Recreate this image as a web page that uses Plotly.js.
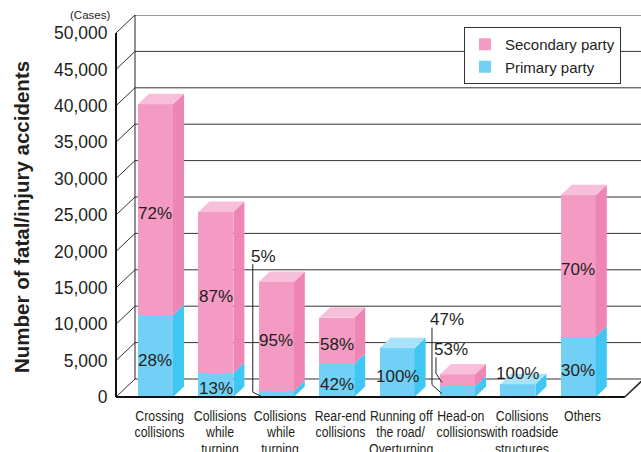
<!DOCTYPE html>
<html>
<head>
<meta charset="utf-8">
<script src="https://cdn.plot.ly/plotly-3.0.1.min.js"></script>
<style>
  html, body { margin: 0; padding: 0; background: #fff; }
  #chart { width: 641px; height: 452px; }
</style>
</head>
<body>
<div id="chart"></div>
<script>
// Fatal/injury accidents by accident type, split by party share
const categories = [
  ['Crossing', 'collisions'],
  ['Collisions', 'while', 'turning'],
  ['Collisions', 'while', 'turning'],
  ['Rear-end', 'collisions'],
  ['Running off', 'the road/', 'Overturning'],
  ['Head-on', 'collisions'],
  ['Collisions', 'with roadside', 'structures'],
  ['Others']
];
const totalCases = [40200, 25400, 15800, 10900, 6700, 3100, 1750, 27700];
const primaryPct = [28, 13, 5, 42, 100, 47, 100, 30];
const secondaryPct = [72, 87, 95, 58, 0, 53, 0, 70];
const seriesNames = { primary: 'Primary party', secondary: 'Secondary party' };
const yTickStep = 5000;
const yTickMax = 50000;

// ---- page / pseudo-3D geometry (pixels) ----
const W = 641, H = 452, ML = 112, MT = 15, MB = 50, MR = 0;
const plotW = W - ML - MR, plotH = H - MT - MB;
const pxPerCat = 60.4, pxPerCase = 364 / yTickMax;
const px = v => v / pxPerCat;       // pixels -> category units
const py = v => v / pxPerCase;      // pixels -> cases
const x0 = -0.72, x1 = x0 + plotW / pxPerCat;
const y0 = -py(5), y1 = y0 + plotH / pxPerCase;
const barW = 0.58;
const depthX = px(11), depthY = py(10.5);
const wallX = px(19), wallY = py(18);
const axisX = x0 + px(4);
const floorEnd = categories.length - 1 + px(46.5);
const narrowScale = 0.82;   // condensed look for the category captions

const colors = {
  primary:   { front: '#72D0F6', side: '#3FC6F3', top: '#A9E2F9' },
  secondary: { front: '#F39BC3', side: '#EE85B4', top: '#F7BFD9' }
};
const ink = '#231F20';
const font = 'Liberation Sans, Arial, Helvetica, sans-serif';

const idx = categories.map((_, i) => i);
const primary = totalCases.map((t, i) => t * primaryPct[i] / 100);
const secondary = totalCases.map((t, i) => t * secondaryPct[i] / 100);

// ---- traces ----
const traces = [];
traces.push({
  type: 'bar', name: seriesNames.primary, x: idx, y: primary, base: idx.map(() => 0),
  width: barW, marker: { color: colors.primary.front, line: { width: 0 } }, hoverinfo: 'skip'
});
traces.push({
  type: 'bar', name: seriesNames.secondary, x: idx, y: secondary, base: primary,
  width: barW, marker: { color: colors.secondary.front, line: { width: 0 } }, hoverinfo: 'skip'
});

// side and top faces, one filled trace per colour
function faceTrace(xs, ys, color) {
  return { type: 'scatter', mode: 'lines', x: xs, y: ys, fill: 'toself', fillcolor: color,
           line: { width: 0, color: color }, showlegend: false, hoverinfo: 'skip' };
}
const faces = { primary: { side: [[], []], top: [[], []] }, secondary: { side: [[], []], top: [[], []] } };
function addPoly(store, pts) {
  pts.forEach(p => { store[0].push(p[0]); store[1].push(p[1]); });
  store[0].push(null); store[1].push(null);
}
idx.forEach(i => {
  const xl = i - barW / 2, xr = i + barW / 2;
  const segs = [['primary', 0, primary[i]], ['secondary', primary[i], primary[i] + secondary[i]]]
    .filter(s => s[2] > s[1]);
  segs.forEach(([key, a, b]) => {
    addPoly(faces[key].side, [[xr, a], [xr + depthX, a + depthY], [xr + depthX, b + depthY], [xr, b]]);
  });
  const [topKey, , topVal] = segs[segs.length - 1];
  addPoly(faces[topKey].top, [[xl, topVal], [xl + depthX, topVal + depthY], [xr + depthX, topVal + depthY], [xr, topVal]]);
});
['primary', 'secondary'].forEach(k => {
  traces.push(faceTrace(faces[k].side[0], faces[k].side[1], colors[k].side));
  traces.push(faceTrace(faces[k].top[0], faces[k].top[1], colors[k].top));
});

// front value axis lives on its own y axis so its line stops at the top tick
traces.push({ type: 'scatter', x: [null], y: [null], yaxis: 'y2', showlegend: false, hoverinfo: 'skip' });

// ---- back wall, floor and grid ----
const shapes = [];
for (let v = 0; v <= yTickMax; v += yTickStep) {
  shapes.push({ type: 'path', layer: 'below', xref: 'x', yref: 'y',
    path: `M${axisX},${v} L${axisX + wallX},${v + wallY} L${x1 + 1},${v + wallY}`,
    line: { color: '#333', width: 1 } });
}
shapes.push({ type: 'line', layer: 'below', xref: 'x', yref: 'y',
  x0: axisX + wallX, x1: axisX + wallX, y0: wallY, y1: yTickMax + wallY, line: { color: '#222', width: 1 } });
shapes.push({ type: 'line', layer: 'above', xref: 'x', yref: 'y',
  x0: floorEnd, x1: floorEnd + wallX, y0: 0, y1: wallY, line: { color: '#222', width: 1.5 } });
shapes.push({ type: 'line', layer: 'above', xref: 'x', yref: 'y',
  x0: axisX, x1: floorEnd, y0: 0, y1: 0, line: { color: '#111', width: 2 } });

// ---- share labels ----
const annotations = [];
const labelPlacement = {
  primary:   ['in', 'in', 'callout', 'in', 'in', 'callout', 'above', 'in'],
  secondary: ['in', 'in', 'in', 'in', 'in', 'callout', 'in', 'in']
};
const callouts = [
  { bar: 2, series: 'primary',   lineDx: -6, rise: 138, bend: 2 },
  { bar: 5, series: 'primary',   lineDx: -8, rise: 72,  bend: 7 },
  { bar: 5, series: 'secondary', lineDx: -4, rise: 31,  bend: 7 }
];
const pctFont = { family: font, size: 17, color: ink };
const segInfo = (key, i) => key === 'primary'
  ? { pct: primaryPct[i], a: 0, b: primary[i] }
  : { pct: secondaryPct[i], a: primary[i], b: primary[i] + secondary[i] };

['primary', 'secondary'].forEach(key => {
  idx.forEach(i => {
    const s = segInfo(key, i);
    if (!s.pct) return;
    const mode = labelPlacement[key][i];
    const mid = (s.a + s.b) / 2;
    if (mode === 'in') {
      annotations.push({ x: i, y: mid, yshift: -4, text: s.pct + '%', showarrow: false,
        xanchor: 'center', yanchor: 'middle', font: pctFont });
    } else if (mode === 'above') {
      annotations.push({ x: i, y: s.b, yshift: 11, text: s.pct + '%', showarrow: false,
        xanchor: 'center', yanchor: 'middle', font: pctFont });
    }
  });
});
callouts.forEach(c => {
  const s = segInfo(c.series, c.bar);
  const mid = (s.a + s.b) / 2;
  const left = c.bar - barW / 2;
  const lx = left + px(c.lineDx);
  traces.push({ type: 'scatter', mode: 'lines', showlegend: false, hoverinfo: 'skip',
    x: [lx, lx, left + px(2)],
    y: [mid + py(c.rise - 8), mid + py(c.bend), mid - py(2)],
    line: { color: ink, width: 1 } });
  annotations.push({ x: lx - px(4), y: mid + py(c.rise), text: s.pct + '%', showarrow: false,
    xanchor: 'left', yanchor: 'middle', font: pctFont });
});

// ---- category labels ----
const catStart = annotations.length;
categories.forEach((lines, i) => {
  lines.forEach((ln, j) => {
    annotations.push({ x: i, xshift: 4, xref: 'x', yref: 'paper', y: 0, yshift: -(13 + 16.7 * j),
      text: ln, showarrow: false, xanchor: 'center', yanchor: 'middle',
      font: { family: font, size: 15, color: ink } });
  });
});
const catEnd = annotations.length;

// axis title and unit
annotations.push({ xref: 'paper', yref: 'paper', x: (21 - ML) / plotW, y: (H - MB - 217) / plotH,
  text: 'Number of fatal/injury accidents', textangle: -90, showarrow: false,
  xanchor: 'center', yanchor: 'middle', font: { family: font, size: 20.5, color: ink, weight: 'bold' } });
annotations.push({ xref: 'paper', yref: 'paper', x: 0, y: 1, text: '(Cases)', showarrow: false,
  xanchor: 'right', yanchor: 'middle', font: { family: font, size: 11.5, color: ink } });

const layout = {
  width: W, height: H,
  margin: { l: ML, r: MR, t: MT, b: MB, pad: 0 },
  paper_bgcolor: '#fff', plot_bgcolor: 'rgba(0,0,0,0)',
  barmode: 'overlay', bargap: 0,
  xaxis: { range: [x0, x1], visible: false, fixedrange: true },
  yaxis: { range: [y0, y1], visible: false, fixedrange: true },
  yaxis2: {
    range: [0, yTickMax], domain: [5 / plotH, 1 - 18 / plotH], anchor: 'free', position: 4 / plotW,
    tickmode: 'linear', tick0: 0, dtick: yTickStep, tickformat: ',d',
    showline: true, linecolor: '#111', linewidth: 2, ticks: '', showgrid: false, zeroline: false,
    ticklabelstandoff: 4,
    tickfont: { family: font, size: 17.5, color: ink }, fixedrange: true
  },
  showlegend: true,
  legend: {
    x: (464 - ML) / plotW, y: (H - MB - 27) / plotH, xanchor: 'left', yanchor: 'top',
    bgcolor: '#fff', bordercolor: '#333', borderwidth: 1, traceorder: 'reversed',
    font: { family: font, size: 15, color: ink }, itemclick: false, itemdoubleclick: false
  },
  shapes: shapes,
  annotations: annotations
};

// narrow the category captions horizontally, each about its own centre
function condenseCaptions(gd) {
  gd.querySelectorAll('g.annotation').forEach(g => {
    const k = +g.getAttribute('data-index');
    if (k >= catStart && k < catEnd) {
      const t = g.querySelector('text.annotation-text');
      if (!t) return;
      t.style.transformBox = 'fill-box';
      t.style.transformOrigin = 'center';
      t.style.transform = `scaleX(${narrowScale})`;
    }
  });
}

Plotly.newPlot('chart', traces, layout, { staticPlot: true, displayModeBar: false })
  .then(condenseCaptions);
</script>
</body>
</html>
